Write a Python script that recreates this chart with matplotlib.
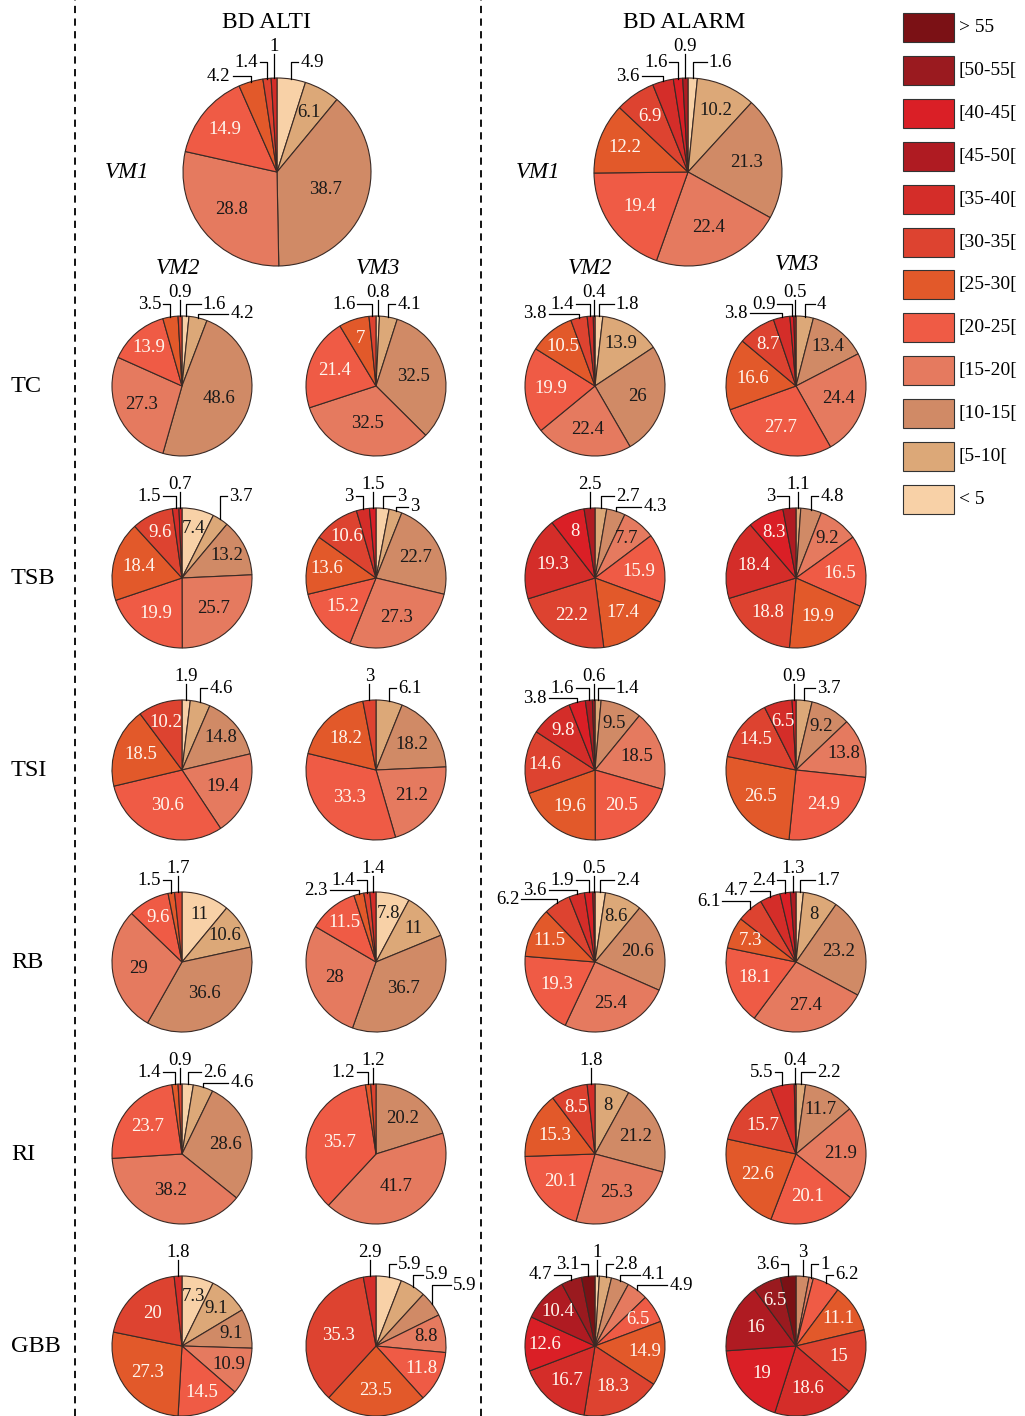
import matplotlib.pyplot as plt
from matplotlib.patches import Rectangle
import numpy as np

plt.rcParams['font.family'] = ['Liberation Serif', 'DejaVu Serif']

# classes, lowest first: slices run clockwise from 12 o'clock in this order
bins = ['< 5', '[5-10[', '[10-15[', '[15-20[', '[20-25[', '[25-30[',
        '[30-35[', '[35-40[', '[40-45[', '[45-50[', '[50-55[', '> 55']
bin_colors = ['#F8D1A7', '#DCA878', '#D08A66', '#E57A5F', '#EF5B45', '#E2592A',
              '#DD4330', '#D42D29', '#DA1F26', '#AF1B22', '#9A1A1F', '#7B1115']
legend_order = ['> 55', '[50-55[', '[40-45[', '[45-50[', '[35-40[', '[30-35[',
                '[25-30[', '[20-25[', '[15-20[', '[10-15[', '[5-10[', '< 5']

rows = ['TC', 'TSB', 'TSI', 'RB', 'RI', 'GBB']

# shares (%) per class, from '< 5' upwards (0 = class absent)
alti_vm1 = [4.9, 6.1, 38.7, 28.8, 14.9, 4.2, 1.4, 1]
alarm_vm1 = [1.6, 10.2, 21.3, 22.4, 19.4, 12.2, 6.9, 3.6, 1.6, 0.9]

alti_vm2 = [
    [1.6, 4.2, 48.6, 27.3, 13.9, 3.5, 0.9],
    [7.4, 3.7, 13.2, 25.7, 19.9, 18.4, 9.6, 1.5, 0.7],
    [1.9, 4.6, 14.8, 19.4, 30.6, 18.5, 10.2],
    [11, 10.6, 36.6, 29, 9.6, 1.5, 1.7],
    [2.6, 4.6, 28.6, 38.2, 23.7, 1.4, 0.9],
    [7.3, 9.1, 9.1, 10.9, 14.5, 27.3, 20, 1.8],
]
alti_vm3 = [
    [0.8, 4.1, 32.5, 32.5, 21.4, 7, 1.6],
    [3, 3, 22.7, 27.3, 15.2, 13.6, 10.6, 3, 1.5],
    [0, 6.1, 18.2, 21.2, 33.3, 18.2, 3],
    [7.8, 11, 36.7, 28, 11.5, 2.3, 1.4, 1.4],
    [0, 0, 20.2, 41.7, 35.7, 1.2, 1.2],
    [5.9, 5.9, 5.9, 8.8, 11.8, 23.5, 35.3, 2.9],
]
alarm_vm2 = [
    [1.8, 13.9, 26, 22.4, 19.9, 10.5, 3.8, 1.4, 0.4],
    [0, 2.7, 4.3, 7.7, 15.9, 17.4, 22.2, 19.3, 8, 2.5],
    [0, 1.4, 9.5, 18.5, 20.5, 19.6, 14.6, 9.8, 3.8, 1.6, 0.6],
    [2.4, 8.6, 20.6, 25.4, 19.3, 11.5, 6.2, 3.6, 1.9, 0.5],
    [0, 8, 21.2, 25.3, 20.1, 15.3, 8.5, 1.8],
    [1, 2.8, 4.1, 4.9, 6.5, 14.9, 18.3, 16.7, 12.6, 10.4, 4.7, 3.1],
]
alarm_vm3 = [
    [0, 4, 13.4, 24.4, 27.7, 16.6, 8.7, 3.8, 0.9, 0.5],
    [0, 1.1, 4.8, 9.2, 16.5, 19.9, 18.8, 18.4, 8.3, 3],
    [0, 3.7, 9.2, 13.8, 24.9, 26.5, 14.5, 6.5, 0.9],
    [1.7, 8, 23.2, 27.4, 18.1, 7.3, 6.1, 4.7, 2.4, 1.3],
    [0, 2.2, 11.7, 21.9, 20.1, 22.6, 15.7, 5.5, 0.4],
    [0, 0, 3, 1, 6.2, 11.1, 15, 18.6, 19, 16, 6.5, 3.6],
]

W, H = 1025, 1416
FS = 13.5
fig = plt.figure(figsize=(W / 100, H / 100), dpi=100)
ax = fig.add_axes([0, 0, 1, 1])


def text_w(s, fs=FS):
    em = fs * 100 / 72
    return sum(0.25 * em if c == '.' else 0.5 * em for c in s)


def draw_pie(vals, cx, y_img, r, big=False):
    cy = H - y_img
    idx = [i for i, v in enumerate(vals) if v > 0]
    v = [vals[i] for i in idx]
    wedges, _ = ax.pie(v, colors=[bin_colors[i] for i in idx], startangle=90,
                       counterclock=False, center=(cx, cy), radius=r,
                       wedgeprops=dict(edgecolor='#3a2a25', linewidth=0.8))
    thr = 6.0 if big else 6.4
    outside = []
    for w, val, b in zip(wedges, v, idx):
        a = np.deg2rad((w.theta1 + w.theta2) / 2)
        if val >= thr:
            d = 0.72 if val < 15 else (0.55 if val > 30 else 0.63)
            ax.text(cx + d * r * np.cos(a), cy + d * r * np.sin(a), f'{val:g}',
                    ha='center', va='center', fontsize=FS,
                    color='#FFF6EE' if b >= 4 else '#1a1a1a')
        else:
            outside.append((val, cx + r * np.cos(a), cy + r * np.sin(a)))

    # label right above the top, if a small slice sits there
    centre = None
    near = [o for o in outside if abs(o[1] - cx) < 0.3 * r and o[2] > cy]
    if near:
        centre = min(near, key=lambda o: abs(o[1] - cx))
        s = f'{centre[0]:g}'
        ly = cy + 1.34 * r
        ax.plot([centre[1], centre[1]], [centre[2], ly - 8], color='k', lw=0.9)
        ax.text(centre[1], ly, s, ha='center', va='center', fontsize=FS)
        half = text_w(s) / 2
    rest = [o for o in outside if o is not centre]
    left = sorted([o for o in rest if o[1] < cx], key=lambda o: -o[2])
    right = sorted([o for o in rest if o[1] >= cx], key=lambda o: -o[2])

    for side, sign in ((left, -1), (right, 1)):
        prev = cx + sign * (half + 5) if centre else cx + sign * 6
        for k, (val, xa, ya) in enumerate(side):
            s = f'{val:g}'
            level = max(cy + (1.17 - 0.15 * k) * r, ya + 4)
            inner = xa + sign * 9
            inner = max(inner, prev + 4) if sign > 0 else min(inner, prev - 4)
            ax.plot([xa, xa, inner - sign * 2], [ya, level, level], color='k', lw=0.9)
            ax.text(inner, level, s, ha='left' if sign > 0 else 'right',
                    va='center', fontsize=FS)
            prev = inner + sign * text_w(s)


# top pies
draw_pie(alti_vm1, 277, 172, 94, big=True)
draw_pie(alarm_vm1, 688, 172, 94, big=True)

col_x = [182, 376, 595, 796]
for i, row in enumerate(rows):
    y = 386 + 192 * i
    for x, data in zip(col_x, (alti_vm2, alti_vm3, alarm_vm2, alarm_vm3)):
        draw_pie(data[i], x, y, 70)
    ax.text(11, H - y, row, ha='left', va='center', fontsize=17.5)

# headers and method labels
ax.text(267, H - 22, 'BD ALTI', ha='center', va='center', fontsize=17)
ax.text(684, H - 22, 'BD ALARM', ha='center', va='center', fontsize=17)
for x, y, s in [(127, 172, 'VM1'), (538, 172, 'VM1'), (178, 268, 'VM2'),
                (378, 268, 'VM3'), (590, 268, 'VM2'), (797, 265, 'VM3')]:
    ax.text(x, H - y, s, ha='center', va='center', fontsize=16.5, style='italic')

# dashed separators
for x in (75, 481):
    ax.plot([x, x], [0, H], color='k', lw=1.3, ls=(0, (4, 3)))

# legend
for i, lab in enumerate(legend_order):
    y = H - (27.5 + 42.9 * i)
    ax.add_patch(Rectangle((903, y - 14.5), 51, 29, facecolor=bin_colors[bins.index(lab)],
                           edgecolor='#333333', lw=0.8))
    ax.text(959, y, lab, ha='left', va='center', fontsize=14)

ax.set_xlim(0, W)
ax.set_ylim(0, H)
ax.set_aspect('equal')
ax.axis('off')
fig.savefig('out.png', dpi=100)
